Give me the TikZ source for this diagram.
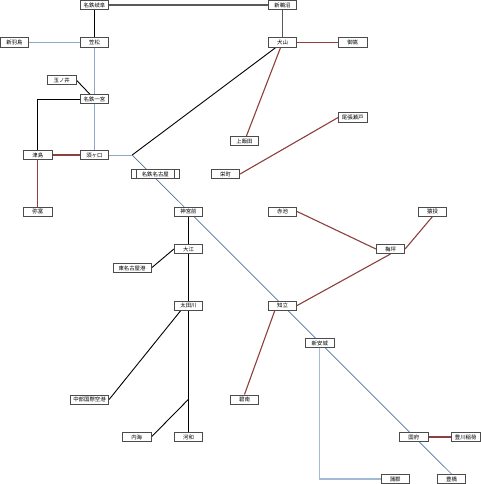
\documentclass[tikz,border=0pt]{standalone}
\usepackage{fontspec}
\setmainfont{Noto Sans CJK JP}
\usetikzlibrary{positioning,backgrounds}
\definecolor{rosen}{HTML}{8C3F3D}
\definecolor{honsen}{HTML}{8FA8C8}
\definecolor{sensen}{HTML}{4F73A0}
\definecolor{pale}{HTML}{A3BAD6}
\tikzset{
    stn/.style={draw=black!70, fill=white, line width=0.8pt, inner sep=0pt, minimum width=28.4pt, minimum height=9.2pt, font=\fontsize{5.4pt}{6pt}\selectfont},
    blkline/.style={draw=black, line width=0.9pt},
    gryline/.style={draw=black!65, line width=1.2pt},
    redline/.style={draw=rosen, line width=1.1pt},
    bluline/.style={draw=honsen, line width=1pt},
    thnline/.style={draw=sensen, line width=0.7pt},
    palline/.style={draw=pale, line width=1.2pt}
}
\begin{document}
\begin{tikzpicture}[x=1pt, y=-1pt]
        \useasboundingbox (0,0) rectangle (480,484);
        % left
        \node[stn] (gifu) at (94.5,5) {名鉄岐阜};
        \node[stn] (kasamatsu) at (94.5,42.5) {笠松};
        \node[stn] (hashima) at (14.4,42.5) {新羽島};
        \node[stn] (tamanoi) at (61.7,80) {玉ノ井};
        \node[stn] (ichinomiya) at (94.5,99) {名鉄一宮};
        \node[stn] (tsushima) at (37.8,155) {津島};
        \node[stn] (sukaguchi) at (94.5,155) {須ヶ口};
        \node[stn] (yatomi) at (37.8,211.5) {弥富};
        \coordinate (junc) at (132.2,155);
        % top right
        \node[stn] (unuma) at (282.5,5) {新鵜沼};
        \node[stn] (inuyama) at (282.5,42.5) {犬山};
        \node[stn] (mitake) at (352.7,42.5) {御嵩};
        \node[stn] (kamiiida) at (244.5,141) {上飯田};
        \node[stn] (seto) at (352.7,117.5) {尾張瀬戸};
        \node[stn] (sakae) at (225.5,174) {栄町};
        % centre
        \node[stn, minimum width=47.4pt] (nagoya) at (155.3,174) {名鉄名古屋};
        \draw[black!70, line width=0.8pt] ([xshift=5pt]nagoya.north west) -- ([xshift=5pt]nagoya.south west);
        \draw[black!70, line width=0.8pt] ([xshift=-5pt]nagoya.north east) -- ([xshift=-5pt]nagoya.south east);
        \node[stn] (jingu) at (188.5,211.5) {神宮前};
        \node[stn] (oe) at (188.5,249) {大江};
        \node[stn, minimum width=38pt] (higashi) at (132,268) {東名古屋港};
        \node[stn] (otagawa) at (188.5,305.5) {太田川};
        \node[stn, minimum width=38.4pt] (chubu) at (89.5,399.5) {中部国際空港};
        \node[stn] (utsumi) at (136.7,437) {内海};
        \node[stn] (kowa) at (188.5,437) {河和};
        \coordinate (fork) at (188.5,399.3);
        % right
        \node[stn] (akaike) at (282.5,211.5) {赤池};
        \node[stn] (nage) at (432.5,211.5) {猿投};
        \node[stn] (umetsubo) at (390.5,249) {梅坪};
        \node[stn] (chiryu) at (282.5,305.5) {知立};
        \node[stn] (hekinan) at (244.5,399.5) {碧南};
        \node[stn, minimum width=29pt] (anjo) at (319.8,343) {新安城};
        \node[stn, minimum width=29pt] (kokufu) at (413.8,437) {国府};
        \node[stn] (toyokawa) at (465.7,437) {豊川稲荷};
        \node[stn] (gamagori) at (395.2,479) {蒲郡};
        \node[stn] (toyohashi) at (451.5,479) {豊橋};

        \begin{scope}[on background layer]
            % black
            \draw[gryline] (gifu) -- (unuma);
            \draw[gryline] (unuma) -- (inuyama);
            \draw[blkline] (gifu) -- (kasamatsu);
            \draw[blkline] (tamanoi.east) -- (ichinomiya.center);
            \draw[blkline] (ichinomiya.west) -| (tsushima.north);
            \draw[blkline] (junc) -- (inuyama.center);
            \draw[blkline] (jingu) -- (oe);
            \draw[blkline] (oe) -- (otagawa);
            \draw[blkline] (otagawa) -- (kowa);
            \draw[blkline] (oe.west) -- (higashi.east);
            \draw[blkline] (otagawa.-147) -- (chubu.east);
            \draw[blkline] (utsumi.east) -- (fork);
            % blue
            \draw[bluline] (hashima) -- (kasamatsu);
            \draw[bluline] (kasamatsu) -- (ichinomiya);
            \draw[bluline] (ichinomiya) -- (sukaguchi);
            \draw[bluline] (sukaguchi) -- (junc);
            \draw[thnline] (junc) -- (toyohashi.north);
            \draw[palline] (anjo.south) |- (gamagori.west);
            % red
            \draw[redline] (tsushima) -- (sukaguchi);
            \draw[redline] (tsushima) -- (yatomi);
            \draw[redline] (inuyama) -- (mitake);
            \draw[redline] (inuyama.center) -- (kamiiida.center);
            \draw[redline] (sakae.east) -- (seto.west);
            \draw[redline] (akaike.east) -- (umetsubo.west);
            \draw[redline] (nage.south) -- (umetsubo.east);
            \draw[redline] (umetsubo.south) -- (chiryu.east);
            \draw[redline] (chiryu.-147) -- (hekinan.north);
            \draw[redline] (kokufu) -- (toyokawa);
        \end{scope}
    \end{tikzpicture}
\end{document}
